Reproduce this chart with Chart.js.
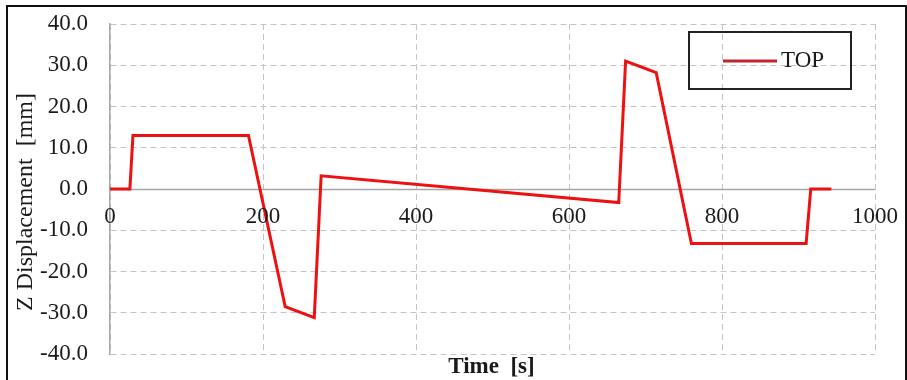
<!DOCTYPE html>
<html>
<head>
<meta charset="utf-8">
<script src="https://cdn.jsdelivr.net/npm/chart.js@4.4.1/dist/chart.umd.min.js"></script>
<style>
  html, body { margin: 0; padding: 0; background: #ffffff; }
  #wrap { width: 907px; height: 380px; position: relative; }
</style>
</head>
<body>
<div id="wrap"><canvas id="zChart"></canvas></div>
<script>
// time history of the top node
const times = [0, 26, 30, 181, 229, 267, 276, 665, 674, 714, 760, 910, 916, 943];
const zDisp = [0, 0, 13, 13, -28.5, -31.2, 3.2, -3.3, 31, 28.2, -13.2, -13.2, 0, 0];
const seriesName = 'TOP';
const xTicks = [0, 200, 400, 600, 800, 1000];
const yTicks = [-40, -30, -20, -10, 0, 10, 20, 30, 40];

const FONT = 'Liberation Serif, Times New Roman, serif';
const LINE_RED = '#ee1111';
const GRID = '#c4c4c4';
const AXIS = '#a6a6a6';
const TEXT = '#1a1a1a';

// solid zero line, tick labels (time labels sit under the zero line)
const tickLabelPlugin = {
  id: 'tickLabels',
  beforeDatasetsDraw(chart) {
    const { ctx, chartArea: area, scales } = chart;
    const y0 = Math.round(scales.y.getPixelForValue(0)) + 0.5;
    ctx.save();
    ctx.strokeStyle = AXIS;
    ctx.lineWidth = 1.5;
    ctx.beginPath();
    ctx.moveTo(area.left, y0);
    ctx.lineTo(area.right, y0);
    ctx.stroke();
    ctx.restore();
  },
  afterDraw(chart) {
    const { ctx, chartArea: area, scales } = chart;
    const y0 = scales.y.getPixelForValue(0);
    ctx.save();
    ctx.fillStyle = TEXT;
    ctx.font = '23px ' + FONT;
    ctx.textBaseline = 'middle';
    ctx.textAlign = 'center';
    xTicks.forEach(v => {
      ctx.fillText(String(v), scales.x.getPixelForValue(v), y0 + 28);
    });
    ctx.textAlign = 'right';
    yTicks.forEach(v => {
      ctx.fillText(v.toFixed(1), area.left - 22, scales.y.getPixelForValue(v));
    });
    ctx.restore();
  }
};

// frame, axis titles and boxed legend
const decorPlugin = {
  id: 'decor',
  afterDraw(chart) {
    const ctx = chart.ctx;
    const area = chart.chartArea;
    ctx.save();

    ctx.strokeStyle = '#111111';
    ctx.lineWidth = 2;
    ctx.strokeRect(7, 6, 899, 400);

    ctx.fillStyle = TEXT;
    ctx.textAlign = 'center';
    ctx.textBaseline = 'middle';

    ctx.font = 'bold 23px ' + FONT;
    ctx.fillText('Time  [s]', (area.left + area.right) / 2 - 1, 367);

    ctx.font = '24px ' + FONT;
    ctx.save();
    ctx.translate(26, 202);
    ctx.rotate(-Math.PI / 2);
    ctx.fillText('Z Displacement  [mm]', 0, 0);
    ctx.restore();

    // legend box
    ctx.lineWidth = 2;
    ctx.strokeStyle = '#222222';
    ctx.strokeRect(689, 32, 162, 57);
    const ds = chart.data.datasets[0];
    ctx.strokeStyle = '#c0262c';
    ctx.lineWidth = 3;
    ctx.beginPath();
    ctx.moveTo(723, 61);
    ctx.lineTo(777, 61);
    ctx.stroke();
    ctx.textAlign = 'left';
    ctx.font = '23px ' + FONT;
    ctx.fillText(ds.label, 781, 61);

    ctx.restore();
  }
};

new Chart(document.getElementById('zChart'), {
  type: 'line',
  data: {
    datasets: [{
      label: seriesName,
      data: times.map((t, i) => ({ x: t, y: zDisp[i] })),
      borderColor: LINE_RED,
      borderWidth: 3,
      pointRadius: 0,
      tension: 0,
      fill: false
    }]
  },
  options: {
    responsive: true,
    maintainAspectRatio: false,
    animation: false,
    layout: { padding: { top: 24, right: 32, bottom: 26, left: 0 } },
    plugins: {
      legend: { display: false },
      tooltip: { enabled: false }
    },
    scales: {
      x: {
        type: 'linear',
        position: 'bottom',
        min: 0,
        max: 1000,
        afterBuildTicks(scale) { scale.ticks = xTicks.map(v => ({ value: v })); },
        ticks: { display: false },
        grid: { color: GRID, lineWidth: 1, drawTicks: false },
        border: { display: false, dash: [6, 4] },
        afterFit(scale) { scale.height = 0; }
      },
      y: {
        type: 'linear',
        min: -40,
        max: 40,
        afterBuildTicks(scale) { scale.ticks = yTicks.map(v => ({ value: v })); },
        ticks: { display: false },
        grid: { color: GRID, lineWidth: 1, drawTicks: false },
        border: { display: true, color: AXIS, width: 1.5, dash: [6, 4] },
        afterFit(scale) { scale.width = 110; }
      }
    }
  },
  plugins: [tickLabelPlugin, decorPlugin]
});
</script>
</body>
</html>
